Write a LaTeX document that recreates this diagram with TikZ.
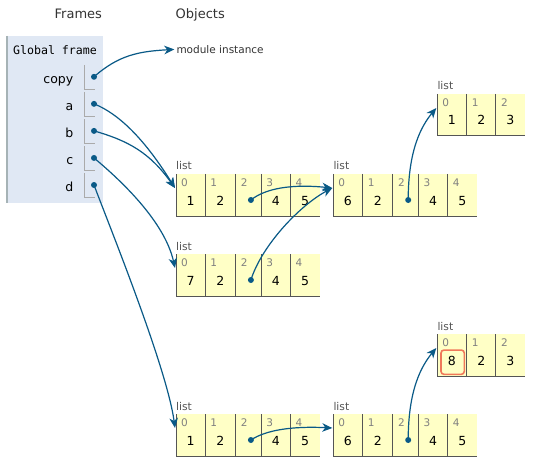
\documentclass[tikz,border=0pt]{standalone}
\usepackage{fontspec}
\setmainfont{DejaVu Sans}
\newfontfamily\monof{DejaVu Sans Mono}
\usetikzlibrary{arrows.meta,calc}
\definecolor{framebg}{HTML}{E0E8F4}
\definecolor{frameline}{HTML}{A6B3B6}
\definecolor{slotc}{HTML}{AAAAAA}
\definecolor{cellyel}{HTML}{FFFFC6}
\definecolor{celledge}{HTML}{555555}
\definecolor{idxgray}{HTML}{808080}
\definecolor{ptrc}{HTML}{0A5A87}
\definecolor{hlred}{HTML}{F0785A}
\definecolor{headc}{HTML}{333333}
\definecolor{lblc}{HTML}{555555}
\tikzset{
  cellbox/.style={rectangle, fill=cellyel, minimum height=42pt, inner sep=0pt, outer sep=0pt, anchor=north west},
  cellborder/.style={draw=celledge, line width=1pt},
  idx/.style={font=\fontsize{10.5pt}{12pt}\selectfont, text=idxgray, inner sep=0pt, anchor=base},
  val/.style={font=\fontsize{12.5pt}{14pt}\selectfont, text=black, inner sep=0pt, anchor=base},
  lbl/.style={font=\fontsize{10.7pt}{12pt}\selectfont, text=lblc, inner sep=0pt, anchor=base west},
  ptrdot/.style={circle, fill=ptrc, inner sep=0pt, minimum size=6pt},
  ptr/.style={draw=ptrc, line width=1.2pt, -{Stealth[length=10pt,width=8.5pt,inset=3pt]}},
  header/.style={font=\fontsize{13pt}{15pt}\selectfont, text=headc, inner sep=0pt, anchor=base},
  varname/.style={font=\fontsize{12.5pt}{14pt}\selectfont, text=black, inner sep=0pt, anchor=base east},
  slotline/.style={draw=slotc, line width=1pt},
  hlbox/.style={draw=hlred, line width=1.6pt, rounded corners=3pt, minimum width=23.3pt, minimum height=24.3pt, inner sep=0pt}
}
\newcommand\mkcell[6]{%
  \node[cellbox, minimum width=#4pt] (#1) at (#2,#3) {};
  \draw[cellborder] (#1.north west) |- (#1.south east);
  \node[idx] (#1i) at ($(#1.north west)+(8.5,12.8)$) {#5};
  \node[val] (#1v) at ($(#1.north)+(0,31)$) {#6};
}
\newcommand\mkpcell[6]{%
  \node[cellbox, minimum width=#4pt] (#1) at (#2,#3) {};
  \draw[cellborder] (#1.north west) |- (#1.south east);
  \node[idx] (#1i) at ($(#1.north west)+(8.5,12.8)$) {#5};
  \node[ptrdot] (#6) at ($(#1.north)+(2.5,26)$) {};
}
\newcommand\fivelist[7]{%
  \node[lbl] (#1lbl) at (#2,#3-4) {list};
  \mkcell{#1c0}{#2}{#3}{29.3}{0}{#4}
  \mkcell{#1c1}{#2+29.3}{#3}{30.3}{1}{#5}
  \mkpcell{#1c2}{#2+59.6}{#3}{25.6}{2}{#1p}
  \mkcell{#1c3}{#2+85.2}{#3}{29.2}{3}{#6}
  \mkcell{#1c4}{#2+114.4}{#3}{29.4}{4}{#7}
  \coordinate (#1in) at ($(#1c0.north west)+(-1,14)$);
}
\newcommand\threelist[6]{%
  \node[lbl] (#1lbl) at (#2,#3-4) {list};
  \mkcell{#1c0}{#2}{#3}{29.3}{0}{#4}
  \mkcell{#1c1}{#2+29.3}{#3}{29.3}{1}{#5}
  \mkcell{#1c2}{#2+58.6}{#3}{29.1}{2}{#6}
  \coordinate (#1in) at ($(#1c0.north west)+(-1,14)$);
}
\begin{document}
\begin{tikzpicture}[x=1pt, y=-1pt]
\fill[white] (0,0) rectangle (534,462);
\useasboundingbox (0,0) rectangle (534,462);
% headers
\node[header] (hframes) at (78.3,18.3) {Frames};
\node[header] (hobjects) at (200.3,18.3) {Objects};
% global frame
\fill[framebg] (6,36) rectangle (103,203);
\draw[draw=frameline, line width=1.5pt] (6.75,36) -- (6.75,203);
\node[font=\monof\fontsize{11.6pt}{13pt}\selectfont, anchor=base, inner sep=0pt] (gf) at (55,54.5) {Global frame};
\foreach \nm [count=\k from 0] in {copy,a,b,c,d} {
  \pgfmathsetmacro\yy{76.8+27.05*\k}
  \node[varname] (n\nm) at (73.5,\yy+6.3) {\nm};
  \draw[slotline] (84.5,\yy-12) -- (84.5,\yy+12.5) -- (95,\yy+12.5);
  \node[ptrdot] (v\nm) at (94,\yy) {};
}
% module instance
\node[font=\fontsize{10.5pt}{12pt}\selectfont, text=headc, inner sep=0pt, anchor=base west] (mod) at (176.3,53.3) {module instance};
\coordinate (modin) at ($(mod.west)+(-2,0)$);
% lists
\fivelist{L1}{176}{174}{1}{2}{4}{5}
\fivelist{L2}{333.3}{174}{6}{2}{4}{5}
\threelist{L3}{437.3}{94}{1}{2}{3}
\fivelist{L4}{176}{254}{7}{2}{4}{5}
\fivelist{L5}{176}{414}{1}{2}{4}{5}
\fivelist{L6}{333.3}{414}{6}{2}{4}{5}
\threelist{L7}{437.3}{334}{8}{2}{3}
\node[hlbox] (L7hl) at ($(L7c0.north)+(0.7,28.2)$) {};
% pointers
\draw[ptr] (vcopy.center) .. controls +(25,-22) and +(-35,2) .. (modin);
\draw[ptr] (va.center) .. controls +(30,12) and +(-25,-40) .. (L1in);
\draw[ptr] (vb.center) .. controls +(35,10) and +(-25,-35) .. (L1in);
\draw[ptr] (vc.center) .. controls +(30,25) and +(-10,-45) .. (L4in);
\draw[ptr] (vd.center) .. controls +(15,40) and +(-8,-60) .. (L5in);
\draw[ptr] (L1p.center) .. controls +(15,-12) and +(-40,-4) .. (L2in);
\draw[ptr] (L4p.center) .. controls +(11,-35) and +(-32,17) .. (L2in);
\draw[ptr] (L2p.center) .. controls +(0,-50) and +(-15,18) .. (L3in);
\draw[ptr] (L5p.center) .. controls +(15,-10) and +(-40,-2) .. (L6in);
\draw[ptr] (L6p.center) .. controls +(0,-50) and +(-15,18) .. (L7in);
\end{tikzpicture}
\end{document}
